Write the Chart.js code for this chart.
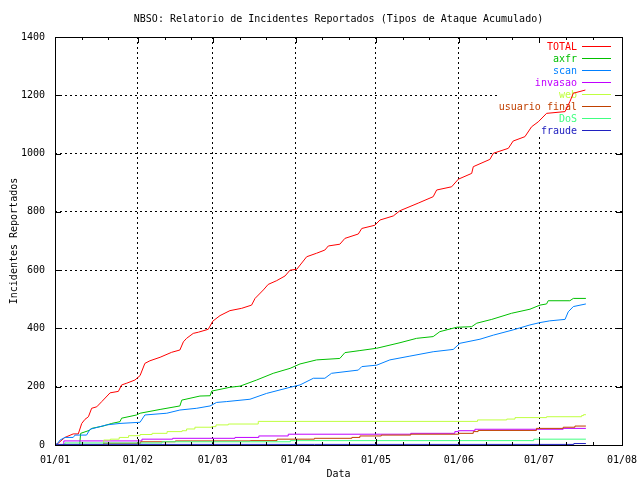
<!DOCTYPE html>
<html>
<head>
<meta charset="utf-8">
<title>NBSO - Incidentes Reportados</title>
<script src="https://cdn.jsdelivr.net/npm/chart.js@4/dist/chart.umd.min.js"></script>
<style>
body { margin: 0; background: #fff; }
</style>
</head>
<body>
<canvas id="chart" width="640" height="480"></canvas>
<script>
// dias contados a partir de 01/01, valores acumulados
const meses = ['01/01', '01/02', '01/03', '01/04', '01/05', '01/06', '01/07', '01/08'];
const inicioMes = [0, 31, 59, 90, 120, 151, 181, 212];

const totalDias = [0,1.2,3.7,6.8,8.7,10,11.2,12.5,13.7,15.6,17.5,20.6,23.7,24.9,26.8,29.9,31.8,33.6,35.5,39.3,43.6,46.7,48,49.2,51.7,53.6,57.3,59,61.7,65.4,69.8,73.5,74.8,77.9,79.7,82.9,86,87.9,90.4,94.1,97.8,100.9,102.2,106.5,108.4,113.4,114.7,119.6,121.5,126.5,129,135.8,141.4,142.7,148.3,150.8,155.8,156.4,162.6,163.9,169.5,171.3,175.7,178.2,180.7,183.8,190.7,192.5,193.8,198.3];
const totalVals = [0,6,26,38,38,74,88,97,126,131,149,179,184,206,212,223,238,280,289,301,318,326,354,366,383,387,397,425,444,461,469,480,503,532,551,564,580,600,603,646,658,669,683,689,709,724,743,754,772,786,804,830,852,875,886,912,932,955,980,1001,1018,1043,1058,1092,1109,1138,1144,1178,1207,1218];

const axfrDias = [0,9.2,9.6,13.1,13.7,18,21.2,24.3,24.9,30.5,31.8,39.3,46.7,47.4,54.2,58,58.6,65.4,69.2,75.4,81.6,87.9,91.6,97.8,106.5,108.4,114,120.3,129,135.2,141.4,143.9,150.2,155.8,157.7,163.3,170.7,177.6,181.3,183.8,184.4,192.5,193.8,198.5];
const axfrVals = [0,0,40,51,57,65,74,80,92,103,109,122,134,154,168,169,185,198,202,223,246,263,278,292,297,317,324,332,351,366,372,389,404,406,418,431,452,466,480,484,495,495,503,503];

const scanDias = [0,1,1.9,3.7,6.8,7.5,11.8,13.1,19.3,24.3,31.8,33.6,41.8,46.7,53,58,60.4,64.2,72.9,79.1,87.9,91.6,96.6,100.9,103.4,113.4,114.7,120.3,125.2,132.7,141.4,148.9,151.4,158.9,163.9,171.3,177.6,181.3,185,190.7,191.9,193.8,198.5];
const scanVals = [0,6,17,26,26,34,34,54,69,74,78,103,109,120,126,134,146,149,157,177,198,206,229,229,246,257,269,274,292,305,320,328,349,363,377,395,412,420,426,431,457,475,484];

const invasaoDias = [0,3.3,32.5,44,67.3,76.2,87.2,133,149.5,150.8,157,190,198.5];
const invasaoVals = [0,14,20,23,26,31,37,40,46,49,54,57,57];

const webDias = [0,18.2,20.7,24,27.5,31.8,36.3,41.9,47.5,49.2,52.3,58.6,60.2,64.8,76,158,168.9,172,183.8,196.9,197.6,198.5];
const webVals = [0,17,20,26,32,36,40,46,49,55,61,63,69,72,81,86,89,94,97,101,104,104];

const usuarioDias = [0,18.2,32,45,73,83,97,111,114,122,133,151,156.4,158.2,180,190,194.4,198.5];
const usuarioVals = [0,6,11,14,15,20,23,26,31,34,37,40,46,50,57,61,65,65];

const dosDias = [0,3.7,40,88,179,198.5];
const dosVals = [0,7,11,15,20,20];

const fraudeDias = [0,194,198.5];
const fraudeVals = [2,5,5];

const series = [
    { label: 'TOTAL', dias: totalDias, vals: totalVals, cor: '#ff0000', degrau: false },
    { label: 'axfr', dias: axfrDias, vals: axfrVals, cor: '#00c000', degrau: false },
    { label: 'scan', dias: scanDias, vals: scanVals, cor: '#0080ff', degrau: false },
    { label: 'invasao', dias: invasaoDias, vals: invasaoVals, cor: '#c000ff', degrau: true },
    { label: 'web', dias: webDias, vals: webVals, cor: '#c0ff40', degrau: true },
    { label: 'usuario final', dias: usuarioDias, vals: usuarioVals, cor: '#c04000', degrau: true },
    { label: 'DoS', dias: dosDias, vals: dosVals, cor: '#40ff80', degrau: true },
    { label: 'fraude', dias: fraudeDias, vals: fraudeVals, cor: '#2020c0', degrau: true }
];

const fonte = '10px "DejaVu Sans Mono", monospace';

// titulo, legenda dentro da area, moldura e marcas estilo gnuplot
const gnuplot = {
    id: 'gnuplot',
    beforeDatasetsDraw(chart) {
        const ctx = chart.ctx;
        const a = chart.chartArea;
        ctx.save();
        ctx.fillStyle = '#fff';
        ctx.fillRect(a.right - 125, 40, 117, 96);
        ctx.font = fonte;
        ctx.textAlign = 'right';
        ctx.textBaseline = 'middle';
        series.forEach((s, i) => {
            const y = 46 + i * 12;
            ctx.fillStyle = s.cor;
            ctx.fillText(s.label, a.right - 45, y + 1);
            ctx.strokeStyle = s.cor;
            ctx.lineWidth = 1;
            ctx.beginPath();
            ctx.moveTo(a.right - 40, y + 0.5);
            ctx.lineTo(a.right - 11, y + 0.5);
            ctx.stroke();
        });
        ctx.restore();
    },
    afterDraw(chart) {
        const ctx = chart.ctx;
        const a = chart.chartArea;
        const xs = chart.scales.x;
        const ys = chart.scales.y;
        ctx.save();
        ctx.strokeStyle = '#000';
        ctx.lineWidth = 1;
        ctx.strokeRect(Math.round(a.left) + 0.5, Math.round(a.top) + 0.5,
            Math.round(a.right - a.left), Math.round(a.bottom - a.top));
        ctx.beginPath();
        inicioMes.forEach((d, i) => {
            const x = Math.round(xs.getPixelForValue(d)) + 0.5;
            ctx.moveTo(x, a.bottom); ctx.lineTo(x, a.bottom - 6);
            ctx.moveTo(x, a.top); ctx.lineTo(x, a.top + 6);
            if (i < inicioMes.length - 1) {
                [10, 20].forEach(off => {
                    const xm = Math.round(xs.getPixelForValue(d + off)) + 0.5;
                    ctx.moveTo(xm, a.bottom); ctx.lineTo(xm, a.bottom - 3);
                    ctx.moveTo(xm, a.top); ctx.lineTo(xm, a.top + 3);
                });
            }
        });
        for (let v = 0; v <= 1400; v += 200) {
            const y = Math.round(ys.getPixelForValue(v)) + 0.5;
            ctx.moveTo(a.left, y); ctx.lineTo(a.left + 6, y);
            ctx.moveTo(a.right, y); ctx.lineTo(a.right - 6, y);
        }
        ctx.stroke();

        ctx.fillStyle = '#000';
        ctx.font = fonte;
        ctx.textAlign = 'center';
        ctx.textBaseline = 'middle';
        const meio = (a.left + a.right) / 2;
        ctx.fillText('NBSO: Relatorio de Incidentes Reportados (Tipos de Ataque Acumulado)', meio, 19);
        ctx.fillText('Data', meio, 474);
        ctx.translate(14, (a.top + a.bottom) / 2);
        ctx.rotate(-Math.PI / 2);
        ctx.fillText('Incidentes Reportados', 0, 0);
        ctx.restore();
    }
};

Chart.defaults.font.family = '"DejaVu Sans Mono", monospace';
Chart.defaults.font.size = 10;
Chart.defaults.color = '#000';

const ctx = document.getElementById('chart').getContext('2d');
const myChart = new Chart(ctx, {
    type: 'line',
    data: {
        datasets: series.map((s, i) => ({
            label: s.label,
            data: s.dias.map((d, j) => ({ x: d, y: s.vals[j] })),
            borderColor: s.cor,
            backgroundColor: s.cor,
            borderWidth: 1,
            pointRadius: 0,
            tension: 0,
            stepped: s.degrau,
            order: series.length - i
        }))
    },
    options: {
        responsive: false,
        animation: false,
        layout: { padding: { top: 37, right: 18, left: 0, bottom: 0 } },
        plugins: {
            legend: { display: false },
            tooltip: { enabled: false }
        },
        scales: {
            x: {
                type: 'linear',
                min: 0,
                max: 212,
                afterBuildTicks: scale => {
                    scale.ticks = inicioMes.map(v => ({ value: v }));
                },
                afterFit: scale => {
                    scale.height = 35;
                    scale.paddingLeft = 0;
                    scale.paddingRight = 0;
                },
                ticks: {
                    autoSkip: false,
                    maxRotation: 0,
                    padding: 9,
                    callback: value => meses[inicioMes.indexOf(value)]
                },
                grid: {
                    color: '#000',
                    drawTicks: false
                },
                border: { display: false, dash: [2, 3] }
            },
            y: {
                min: 0,
                max: 1400,
                afterFit: scale => { scale.width = 55; },
                ticks: {
                    stepSize: 200,
                    padding: 10,
                    callback: value => String(value)
                },
                grid: {
                    color: '#000',
                    drawTicks: false
                },
                border: { display: false, dash: [2, 3] }
            }
        }
    },
    plugins: [gnuplot]
});
</script>
</body>
</html>
